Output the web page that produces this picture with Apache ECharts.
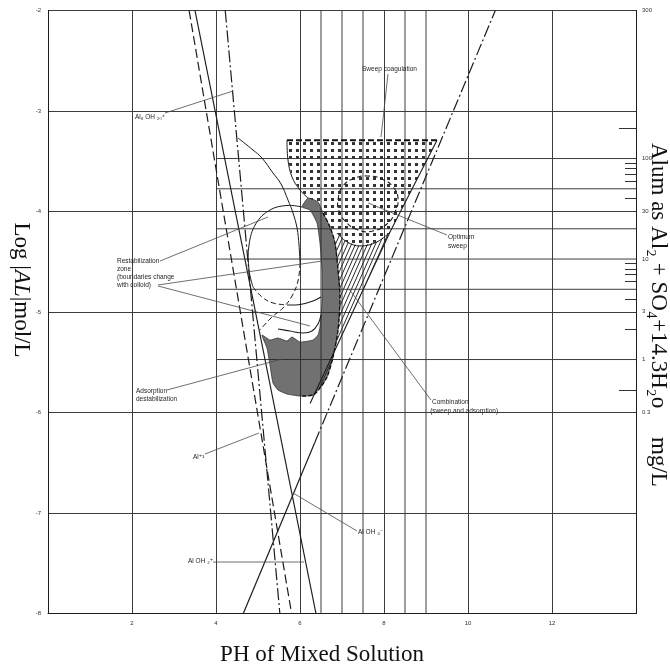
<!DOCTYPE html>
<html>
<head>
<meta charset="utf-8">
<script src="https://cdn.jsdelivr.net/npm/echarts@6/dist/echarts.min.js"></script>
<style>
  html, body { margin: 0; padding: 0; background: #fff; }
  #chart { width: 670px; height: 670px; }
</style>
</head>
<body>
<div id="chart"></div>
<script>
// ---- axes ----
const PH_MIN = 0, PH_MAX = 14;
const LOG_MIN = -8, LOG_MAX = -2;
const phTickStep = 2;
const logTickStep = 1;

// extra vertical rulings (pH)
const extraPhRulings = [6.5, 7, 7.5, 8.5, 9];
// alum dose rulings (mg/L), drawn from pH 4 to the right edge
const alumRulings = [100, 50, 20, 10, 5, 1];
const alumRulingStartPh = 4;

// right-hand alum scale
const alumLabels = ['300', '100', '30', '10', '3', '1', '0.3'];
const alumLabelLogAl = [-2, -3.473, -3.996, -4.473, -4.996, -5.473, -5.996];
const alumMinorTicks = [90, 80, 70, 60, 40, 9, 8, 7, 6, 4, 2];
const alumLongTicks = [200, 0.5];
// mg/L of Al2(SO4)3·14.3H2O -> log mol/L of Al
const ALUM_LOG_OFFSET = 5.473;
const toLogAl = mg => Math.log10(mg) - ALUM_LOG_OFFSET;

// ---- solubility lines (pH, log[Al]) ----
const al3Line = [[3.36, -2], [5.80, -8]];
const al8Line = [[4.22, -2], [5.52, -8]];
const totalLine = [[3.5, -2], [6.38, -8]];
const alOH4Lower = [[4.65, -8], [6.35, -6.3]];
const alOH4Upper = [[6.35, -6.3], [10.65, -2]];

// ---- coagulation zones ----
const sweepRegion = [
  [5.69, -3.29], [9.262, -3.29], [8.143, -4.204], [7.833, -4.303], [7.429, -4.343],
  [7.119, -4.303], [6.881, -4.214], [6.714, -4.154], [6.548, -4.015], [6.429, -3.905],
  [6.190, -3.866], [6.0, -3.786], [5.810, -3.657], [5.714, -3.488]
];
const sweepTopEdge = [[5.69, -3.29], [9.262, -3.29]];
const sweepLeftEdge = [[5.69, -3.29], [5.714, -3.488], [5.810, -3.657], [6.0, -3.786], [6.190, -3.866]];
const sweepBottomEdge = [[6.881, -4.214], [7.119, -4.303], [7.429, -4.343], [7.833, -4.303], [8.143, -4.204]];
const sweepRightEdge = [[9.262, -3.29], [8.143, -4.204], [6.24, -5.91]];

const optimumSweep = [
  [6.905, -3.886], [7.024, -3.746], [7.310, -3.667], [7.619, -3.647], [7.952, -3.677],
  [8.214, -3.756], [8.333, -3.866], [8.262, -4.005], [8.071, -4.124], [7.738, -4.194],
  [7.381, -4.184], [7.095, -4.104], [6.929, -3.995]
];

const adsorptionRegion = [
  [6.048, -3.955], [6.190, -3.866], [6.429, -3.905], [6.548, -4.015], [6.714, -4.154],
  [6.833, -4.313], [6.905, -4.582], [6.952, -4.851], [6.905, -5.179], [6.786, -5.448],
  [6.643, -5.647], [6.476, -5.756], [6.310, -5.826], [6.0, -5.836], [5.690, -5.816],
  [5.476, -5.776], [5.357, -5.706], [5.286, -5.527], [5.214, -5.358], [5.095, -5.229],
  [5.286, -5.279], [5.476, -5.259], [5.690, -5.289], [5.810, -5.249], [6.0, -5.299],
  [6.310, -5.279], [6.429, -5.229], [6.476, -5.149], [6.524, -4.910], [6.524, -4.582],
  [6.476, -4.313], [6.405, -4.114], [6.238, -3.985]
];
const adsorptionDashedEdge = [
  [6.548, -4.015], [6.714, -4.154], [6.833, -4.313], [6.905, -4.582], [6.952, -4.851],
  [6.905, -5.179], [6.786, -5.448], [6.643, -5.647], [6.476, -5.756], [6.310, -5.826], [6.0, -5.836]
];

const combinationRegion = [
  [6.881, -4.214], [7.119, -4.303], [7.429, -4.343], [7.833, -4.303], [8.143, -4.204],
  [6.24, -5.91], [6.310, -5.826], [6.476, -5.756], [6.643, -5.647], [6.786, -5.448],
  [6.905, -5.179], [6.952, -4.851], [6.905, -4.582], [6.833, -4.313]
];

const restabOuter = [
  [4.524, -3.269], [4.881, -3.388], [5.095, -3.468], [5.357, -3.617], [5.548, -3.726],
  [5.714, -3.886], [5.833, -4.015], [5.929, -4.164], [5.976, -4.333], [6.0, -4.512]
];
const restabOuterDashed = [[6.0, -4.512], [5.952, -4.692], [5.810, -4.841], [5.595, -4.960], [5.333, -5.050], [5.048, -5.179]];
const restabInner = [[6.048, -3.955], [5.690, -3.940], [5.286, -3.985], [4.952, -4.120], [4.786, -4.333], [4.786, -4.580], [4.881, -4.751]];
const restabInnerDashed = [[4.881, -4.751], [5.095, -4.851], [5.357, -4.910], [5.690, -4.930]];
const restabArc = [[5.690, -4.930], [6.0, -4.925], [6.310, -4.890], [6.5, -4.85]];
const restabLower = [[5.476, -5.169], [5.762, -5.189], [6.071, -5.209], [6.286, -5.189], [6.429, -5.119], [6.5, -5.030]];

// ---- annotations ----
const annotationTexts = [
  'Sweep coagulation', 'Optimum', 'sweep', 'Combination', '(sweep and adsorption)',
  'Restabilization', 'zone', '(boundaries change', 'with colloid)',
  'Adsorption', 'destabilization', 'Al₈ OH ₂₀⁴', 'Al⁺³', 'Al OH ₂⁺', 'Al OH ₄⁻'
];
const annotationPos = [
  [7.476, -2.582], [9.524, -4.254], [9.524, -4.343], [9.143, -5.896], [9.10, -5.985],
  [1.643, -4.493], [1.643, -4.572], [1.643, -4.652], [1.643, -4.731],
  [2.095, -5.786], [2.095, -5.866], [2.071, -3.060], [3.452, -6.443], [3.333, -7.478], [7.381, -7.189]
];
const leaderLines = [
  [[8.095, -2.632], [7.929, -3.259]],
  [[9.5, -4.234], [7.619, -3.915]],
  [[9.119, -5.876], [7.167, -4.771]],
  [[2.667, -4.493], [5.238, -4.055]],
  [[2.619, -4.731], [6.524, -4.493]],
  [[2.619, -4.741], [6.238, -5.139]],
  [[2.833, -5.776], [5.571, -5.468]],
  [[2.786, -3.020], [4.405, -2.801]],
  [[3.738, -6.413], [5.024, -6.204]],
  [[3.929, -7.488], [6.095, -7.488]],
  [[7.357, -7.179], [5.833, -6.801]]
];

// ---- styles ----
const INK = '#1c1c1c';
const RULE = '#3c3c3c';
const SMALL_FONT = '"Liberation Sans", "DejaVu Sans", sans-serif';
const TITLE_FONT = '"Liberation Serif", "DejaVu Serif", serif';
const TITLE_SIZE = 23;

function makeTile(w, h, draw) {
  const c = document.createElement('canvas');
  c.width = w; c.height = h;
  draw(c.getContext('2d'));
  return c;
}
// dotted screen for sweep coagulation
const dotTile = makeTile(7, 7, g => { g.fillStyle = '#333'; g.fillRect(2, 2, 3, 3); });
// diagonal hatching for the combination zone
const hatchTile = makeTile(4, 9, g => {
  g.strokeStyle = '#2a2a2a'; g.lineWidth = 1;
  for (const x0 of [-4, 0, 4]) { g.beginPath(); g.moveTo(x0, 9); g.lineTo(x0 + 4, 0); g.stroke(); }
});

function pathSeries(name, pts, style, opt = {}) {
  return {
    name, type: 'custom', coordinateSystem: 'cartesian2d', silent: true,
    z: opt.z != null ? opt.z : 4,
    data: [pts[0]],
    renderItem: (params, api) => ({
      type: opt.closed ? 'polygon' : 'polyline',
      shape: { points: pts.map(p => api.coord(p)), smooth: opt.smooth || 0 },
      style: Object.assign({ fill: 'none' }, style)
    })
  };
}

function lineSeries(name, pts, lineStyle) {
  return {
    name, type: 'line', data: pts, symbol: 'none', silent: true, z: 5,
    lineStyle: Object.assign({ color: INK, width: 1.2 }, lineStyle)
  };
}

const series = [
  // extra vertical rulings
  {
    type: 'custom', silent: true, z: 1,
    data: extraPhRulings.map(v => [v, LOG_MIN]),
    renderItem: (params, api) => {
      const a = api.coord([api.value(0), LOG_MIN]);
      const b = api.coord([api.value(0), LOG_MAX]);
      return { type: 'line', shape: { x1: a[0], y1: a[1], x2: b[0], y2: b[1] }, style: { stroke: RULE, lineWidth: 1 } };
    }
  },
  // alum dose rulings
  {
    type: 'custom', silent: true, z: 1,
    data: alumRulings.map(v => [alumRulingStartPh, toLogAl(v)]),
    renderItem: (params, api) => {
      const a = api.coord([api.value(0), api.value(1)]);
      const b = api.coord([PH_MAX, api.value(1)]);
      return { type: 'line', shape: { x1: a[0], y1: a[1], x2: b[0], y2: b[1] }, style: { stroke: RULE, lineWidth: 1 } };
    }
  },
  // zone fills
  pathSeries('Sweep coagulation', sweepRegion, { fill: { image: dotTile, repeat: 'repeat' }, stroke: null }, { closed: true, z: 2 }),
  pathSeries('Combination', combinationRegion, { fill: { image: hatchTile, repeat: 'repeat' }, stroke: null }, { closed: true, z: 2 }),
  pathSeries('Adsorption destabilization', adsorptionRegion, { fill: 'rgba(40,40,40,0.66)', stroke: '#333', lineWidth: 0.8 }, { closed: true, z: 3, smooth: 0.15 }),
  // zone outlines
  pathSeries('optimum', optimumSweep, { stroke: INK, lineWidth: 1.1, lineDash: [5, 3] }, { closed: true, smooth: 0.5 }),
  pathSeries('sweep top', sweepTopEdge, { stroke: '#111', lineWidth: 2, lineDash: [6, 3] }),
  pathSeries('sweep left', sweepLeftEdge, { stroke: INK, lineWidth: 1 }, { smooth: 0.4 }),
  pathSeries('sweep bottom', sweepBottomEdge, { stroke: INK, lineWidth: 1 }, { smooth: 0.4 }),
  pathSeries('sweep right', sweepRightEdge, { stroke: INK, lineWidth: 1.1 }),
  pathSeries('adsorption edge', adsorptionDashedEdge, { stroke: '#111', lineWidth: 1.3, lineDash: [4, 2] }, { smooth: 0.3 }),
  pathSeries('restab outer', restabOuter, { stroke: INK, lineWidth: 1 }, { smooth: 0.4 }),
  pathSeries('restab outer dashed', restabOuterDashed, { stroke: INK, lineWidth: 1, lineDash: [5, 3] }, { smooth: 0.4 }),
  pathSeries('restab inner', restabInner, { stroke: INK, lineWidth: 1 }, { smooth: 0.4 }),
  pathSeries('restab inner dashed', restabInnerDashed, { stroke: INK, lineWidth: 1, lineDash: [5, 3] }, { smooth: 0.4 }),
  pathSeries('restab arc', restabArc, { stroke: INK, lineWidth: 1.1 }, { smooth: 0.4 }),
  pathSeries('restab lower', restabLower, { stroke: INK, lineWidth: 1.1 }, { smooth: 0.4 }),
  // solubility lines
  lineSeries('Al+3', al3Line, { type: [9, 4] }),
  lineSeries('Al8(OH)20', al8Line, { type: [12, 3, 2, 3] }),
  lineSeries('total', totalLine, {}),
  lineSeries('Al(OH)4 lower', alOH4Lower, {}),
  lineSeries('Al(OH)4 upper', alOH4Upper, { type: [12, 3, 2, 3] }),
  // leaders
  {
    type: 'custom', silent: true, z: 6,
    data: leaderLines.map((l, i) => [l[0][0], l[0][1], i]),
    renderItem: (params, api) => {
      const l = leaderLines[api.value(2)];
      const a = api.coord(l[0]), b = api.coord(l[1]);
      return { type: 'line', shape: { x1: a[0], y1: a[1], x2: b[0], y2: b[1] }, style: { stroke: '#4a4a4a', lineWidth: 0.8 } };
    }
  },
  // annotation text
  {
    type: 'custom', silent: true, z: 7,
    data: annotationPos.map((p, i) => [p[0], p[1], i]),
    renderItem: (params, api) => {
      const c = api.coord([api.value(0), api.value(1)]);
      return {
        type: 'text', x: c[0], y: c[1],
        style: {
          text: annotationTexts[api.value(2)], fontSize: 6.5, fontFamily: SMALL_FONT,
          fill: '#262626', align: 'left', verticalAlign: 'middle'
        }
      };
    }
  }
];

const chart = echarts.init(document.getElementById('chart'));
chart.setOption({
  animation: false,
  backgroundColor: '#fff',
  grid: { left: 48, right: 34, top: 10.5, bottom: 56.5 },
  xAxis: {
    type: 'value', min: PH_MIN, max: PH_MAX, interval: phTickStep,
    axisLine: { show: true, lineStyle: { color: INK, width: 1 } },
    axisTick: { show: false },
    axisLabel: {
      formatter: v => (v === PH_MIN || v === PH_MAX) ? '' : String(v),
      fontSize: 6, color: '#333', margin: 7, fontFamily: SMALL_FONT
    },
    splitLine: { show: true, lineStyle: { color: RULE, width: 1 } }
  },
  yAxis: [
    {
      type: 'value', min: LOG_MIN, max: LOG_MAX, interval: logTickStep,
      axisLine: { show: true, lineStyle: { color: INK, width: 1 } },
      axisTick: { show: false },
      axisLabel: { fontSize: 6, color: '#333', margin: 7, fontFamily: SMALL_FONT },
      splitLine: { show: true, lineStyle: { color: RULE, width: 1 } }
    },
    {
      type: 'value', min: LOG_MIN, max: LOG_MAX, position: 'right', alignTicks: false,
      axisLine: { show: true, lineStyle: { color: INK, width: 1 } },
      splitLine: { show: false },
      axisTick: { show: true, inside: true, length: 11, customValues: alumMinorTicks.map(toLogAl), lineStyle: { color: '#333', width: 1 } },
      axisLabel: {
        show: true, customValues: alumLabelLogAl,
        formatter: v => { const i = alumLabelLogAl.findIndex(x => Math.abs(x - v) < 1e-6); return i < 0 ? '' : alumLabels[i]; },
        fontSize: 6, color: '#333', margin: 6, fontFamily: SMALL_FONT
      }
    },
    {
      type: 'value', min: LOG_MIN, max: LOG_MAX, position: 'right', alignTicks: false,
      axisLine: { show: false }, splitLine: { show: false }, axisLabel: { show: false },
      axisTick: { show: true, inside: true, length: 17, customValues: alumLongTicks.map(toLogAl), lineStyle: { color: '#333', width: 1 } }
    }
  ],
  graphic: [
    {
      type: 'text', x: 21, y: 290, rotation: -Math.PI / 2,
      style: {
        text: 'Log |{i|AL}|mol/L', fontSize: TITLE_SIZE, fontFamily: TITLE_FONT, fill: '#111',
        align: 'center', verticalAlign: 'middle',
        rich: { i: { fontSize: TITLE_SIZE, fontFamily: TITLE_FONT, fontStyle: 'italic', fill: '#111' } }
      }
    },
    {
      type: 'text', x: 658, y: 143, rotation: -Math.PI / 2,
      style: {
        text: 'Alum as Al₂ + SO₄+14.3H₂o     mg/L', fontSize: TITLE_SIZE, fontFamily: TITLE_FONT, fill: '#111',
        align: 'left', verticalAlign: 'middle'
      }
    },
    {
      type: 'text', x: 322, y: 655,
      style: {
        text: 'PH of Mixed Solution', fontSize: TITLE_SIZE, fontFamily: TITLE_FONT, fill: '#111',
        align: 'center', verticalAlign: 'middle'
      }
    }
  ],
  series
});
</script>
</body>
</html>
